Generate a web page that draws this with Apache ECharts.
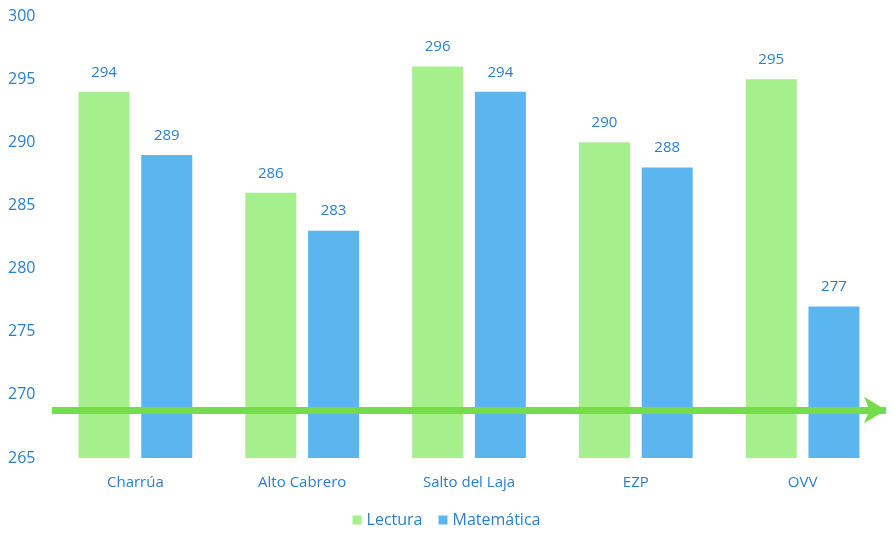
<!DOCTYPE html>
<html><head><meta charset="utf-8">
<script src="https://cdn.jsdelivr.net/npm/echarts@6/dist/echarts.min.js"></script>
<style>html,body{margin:0;padding:0;background:#fff}#c{width:893px;height:537px}</style>
</head><body><div id="c"></div>
<script>
var categories = ['Charrúa', 'Alto Cabrero', 'Salto del Laja', 'EZP', 'OVV'];
var lectura = [294, 286, 296, 290, 295];
var matematica = [289, 283, 294, 288, 277];
var arrowLevel = 268.8;

var txt = '#2b7fc9';
var chart = echarts.init(document.getElementById('c'));
chart.setOption({
  animation: false,
  textStyle: { fontFamily: 'Open Sans' },
  grid: { left: 52, right: 7, top: 16, bottom: 79 },
  legend: {
    bottom: 4, left: 'center', itemWidth: 9, itemHeight: 9, itemGap: 16,
    icon: 'rect',
    textStyle: { color: txt, fontSize: 16, fontFamily: 'Open Sans' },
    data: ['Lectura', 'Matemática']
  },
  xAxis: {
    type: 'category', data: categories,
    axisLine: { show: false }, axisTick: { show: false },
    axisLabel: { color: txt, fontSize: 15, margin: 17 }
  },
  yAxis: {
    type: 'value', min: 265, max: 300, interval: 5,
    splitLine: { show: false }, axisLine: { show: false }, axisTick: { show: false },
    axisLabel: { color: txt, fontSize: 16, align: 'left', margin: 44 }
  },
  series: [
    {
      name: 'Lectura', type: 'bar', data: lectura, barWidth: 51, barGap: '23%',
      itemStyle: { color: '#a5ef8c' },
      label: { show: true, position: 'top', distance: 12, color: txt, fontSize: 15 },
      markLine: {
        silent: true, symbol: ['none', 'arrow'], symbolSize: [20, 22],
        label: { show: false },
        lineStyle: { color: '#77dc4c', width: 7, type: 'solid' },
        data: [{ yAxis: arrowLevel }]
      }
    },
    {
      name: 'Matemática', type: 'bar', data: matematica, barWidth: 51,
      itemStyle: { color: '#5bb6ef' },
      label: { show: true, position: 'top', distance: 12, color: txt, fontSize: 15 }
    }
  ]
});
</script></body></html>
